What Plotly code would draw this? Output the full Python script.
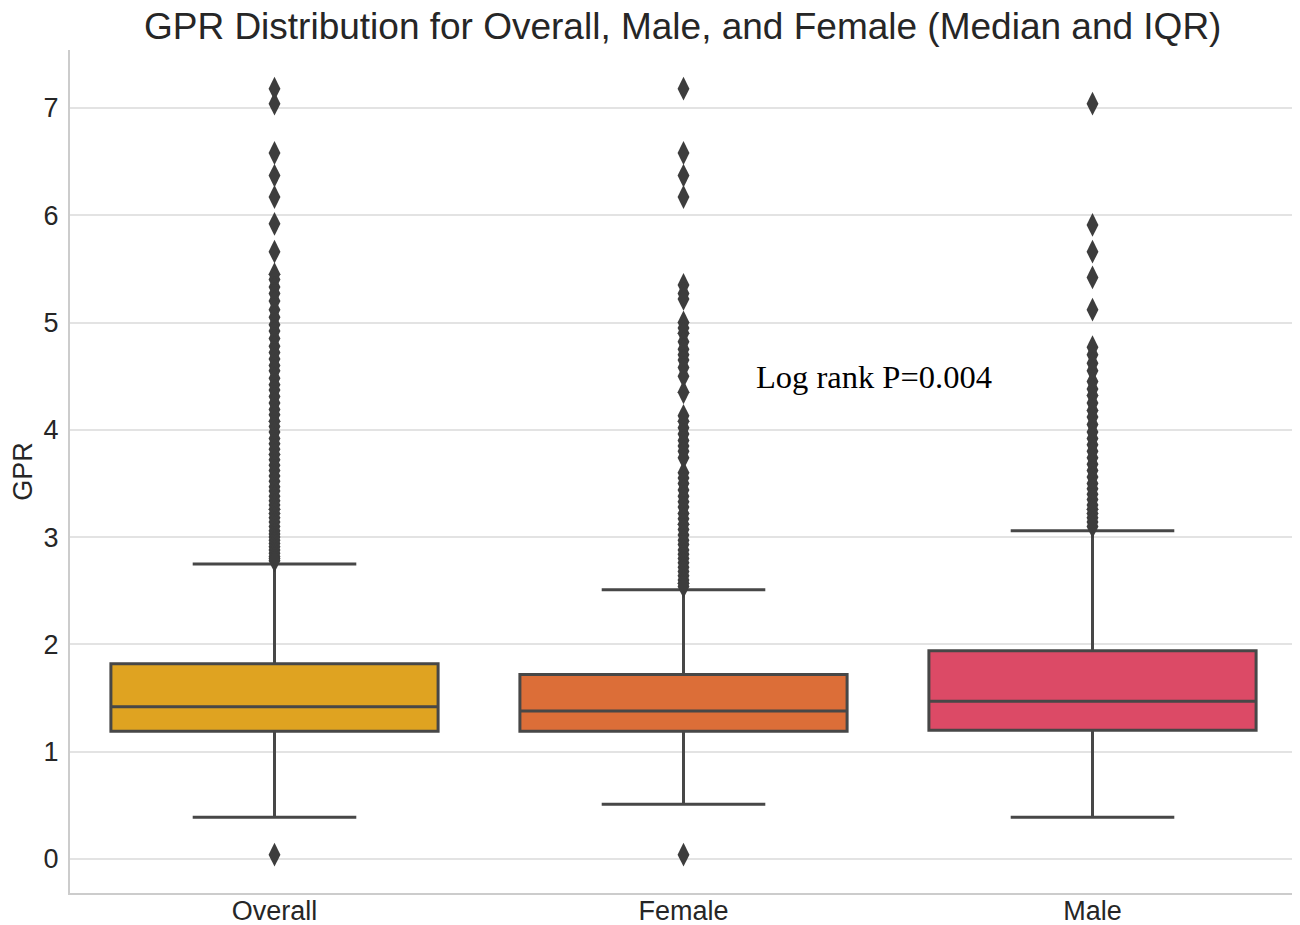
import plotly.graph_objects as go

categories = ["Overall", "Female", "Male"]
q1 = [1.19, 1.19, 1.20]
median = [1.42, 1.38, 1.47]
q3 = [1.82, 1.72, 1.94]
lower_fence = [0.39, 0.51, 0.39]
upper_fence = [2.75, 2.51, 3.06]
colors = ["#DFA321", "#DC6E38", "#DC4A66"]

outliers_overall = [7.18, 7.04, 6.58, 6.37, 6.17, 5.92, 5.66, 5.45, 5.40, 5.33, 5.27, 5.20,
                    5.12, 5.05, 4.98, 4.92, 4.85, 4.78, 4.72, 4.66, 4.60, 4.55, 4.48, 4.42,
                    4.37, 4.31, 4.25, 4.19, 4.14, 4.08, 4.03, 3.98, 3.92, 3.87, 3.82, 3.77,
                    3.72, 3.67, 3.62, 3.57, 3.52, 3.47, 3.43, 3.38, 3.34, 3.30, 3.26, 3.22,
                    3.18, 3.14, 3.10, 3.06, 3.03, 3.00, 2.97, 2.94, 2.91, 2.88, 2.85, 2.82,
                    2.80, 2.78, 0.04]
outliers_female = [7.18, 6.58, 6.37, 6.17, 5.35, 5.27, 5.22, 5.00, 4.95, 4.90, 4.82, 4.75,
                   4.70, 4.65, 4.58, 4.50, 4.35, 4.13, 4.08, 4.02, 3.96, 3.90, 3.85, 3.80,
                   3.74, 3.60, 3.55, 3.50, 3.44, 3.38, 3.33, 3.28, 3.22, 3.17, 3.12, 3.07,
                   3.02, 2.97, 2.93, 2.88, 2.84, 2.80, 2.76, 2.72, 2.68, 2.64, 2.60, 2.57,
                   2.54, 0.04]
outliers_male = [7.04, 5.91, 5.66, 5.42, 5.12, 4.77, 4.70, 4.62, 4.55, 4.45, 4.38, 4.32,
                 4.25, 4.18, 4.12, 4.05, 3.98, 3.92, 3.86, 3.80, 3.74, 3.68, 3.62, 3.56,
                 3.50, 3.45, 3.40, 3.35, 3.30, 3.26, 3.22, 3.18, 3.14, 3.10]
outliers = [outliers_overall, outliers_female, outliers_male]

y_ticks = [0, 1, 2, 3, 4, 5, 6, 7]

line_col = "#474747"
fig = go.Figure()
for i, cat in enumerate(categories):
    fig.add_trace(go.Box(
        x=[cat], q1=[q1[i]], median=[median[i]], q3=[q3[i]],
        lowerfence=[lower_fence[i]], upperfence=[upper_fence[i]],
        fillcolor=colors[i], line=dict(color=line_col, width=3),
        width=0.8, whiskerwidth=0.5, boxpoints=False, showlegend=False,
    ))
    fig.add_trace(go.Scatter(
        x=[cat] * len(outliers[i]), y=outliers[i], mode="markers",
        marker=dict(symbol="diamond-tall", size=17, color="#3d3d3d"),
        showlegend=False,
    ))

fig.add_annotation(x=1.466, y=4.49, xref="x", yref="y", text="Log rank P=0.004",
                   showarrow=False, font=dict(family="Liberation Serif", size=32.5, color="black"))

fig.update_layout(
    width=1300, height=925,
    margin=dict(l=62, r=11, t=42, b=40, autoexpand=False),
    paper_bgcolor="white", plot_bgcolor="white",
    boxmode="overlay",
    font=dict(family="Liberation Sans", color="#262626"),
    title=dict(text="GPR Distribution for Overall, Male, and Female (Median and IQR)",
               x=0.519, xanchor="center", y=0.98, yanchor="middle",
               font=dict(size=37, color="#262626")),
)
fig.update_xaxes(type="category", categoryorder="array", categoryarray=categories,
                 range=[-0.5, 2.5], showgrid=False, showline=True, linecolor="#cccccc",
                 linewidth=2, ticks="", tickfont=dict(size=27, color="#262626"), zeroline=False,
                 ticklabelstandoff=-7)
fig.update_yaxes(range=[-0.317, 7.54], tickvals=y_ticks, showgrid=True, gridcolor="#e3e3e3",
                 gridwidth=1.5, showline=True, linecolor="#cccccc", linewidth=2, zeroline=False,
                 ticks="", tickfont=dict(size=27, color="#262626"), ticklabelstandoff=4,
                 title=dict(text="GPR", font=dict(size=27, color="#262626"), standoff=12))

fig.write_html("out.html")
